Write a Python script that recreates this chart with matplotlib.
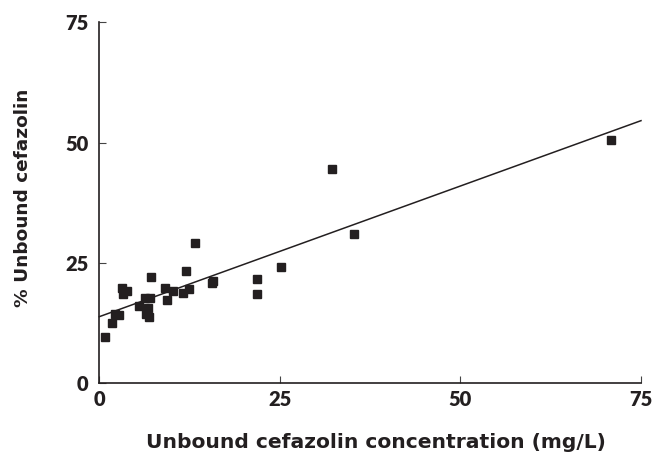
import matplotlib
matplotlib.use("Agg")
import matplotlib.pyplot as plt
import numpy as np

# Data
conc = [0.8, 1.8, 2.2, 2.7, 3.2, 3.3, 3.9, 5.5, 6.3, 7.0, 6.8, 6.5, 6.9, 7.2,
        9.05, 9.4, 10.2, 11.55, 12.0, 12.4, 13.2, 15.6, 15.8, 21.8, 21.9, 25.1,
        32.2, 35.2, 70.9]
unbound_pct = [9.7, 12.6, 14.4, 14.1, 19.9, 18.5, 19.25, 16.1, 17.7, 17.7, 15.6,
               14.5, 13.7, 22.15, 19.7, 17.3, 19.1, 18.7, 23.3, 19.5, 29.1, 20.8,
               21.25, 21.7, 18.55, 24.2, 44.5, 31.0, 50.6]
fit_x = [0, 75]
fit_intercept = 13.84
fit_slope = 0.543
xticks = [0, 25, 50, 75]
yticks = [0, 25, 50, 75]

plt.rcParams['font.family'] = ['Lato', 'DejaVu Sans']
TXT = '#231f20'

fig = plt.figure(figsize=(6.52, 4.55), dpi=100)
W, H = 652, 455
ax = fig.add_axes([99.3 / W, 1 - 383.3 / H, (641 - 99.3) / W, (383.3 - 22.3) / H])

fx = np.array(fit_x, dtype=float)
ax.plot(fx, fit_intercept + fit_slope * fx, color=TXT, lw=1.1, clip_on=False)
ax.plot(conc, unbound_pct, linestyle='none', marker='s', markersize=5.2,
        color=TXT, clip_on=False)

ax.set_xlim(0, 75)
ax.set_ylim(0, 75)
ax.set_xticks(xticks)
ax.set_yticks(yticks)
ax.set_xticklabels([str(t) for t in xticks], fontsize=14.5, fontweight='heavy', color=TXT)
ax.set_yticklabels([str(t) for t in yticks], fontsize=14.5, fontweight='heavy', color=TXT)
ax.tick_params(axis='both', direction='in', length=5, width=0.8, color='#444444')
ax.tick_params(axis='x', pad=5)
ax.tick_params(axis='y', pad=8)
for s in ['top', 'right']:
    ax.spines[s].set_visible(False)
for s in ['left', 'bottom']:
    ax.spines[s].set_linewidth(1.2)
    ax.spines[s].set_color(TXT)

fig.text(376 / W, 1 - 442 / H, 'Unbound cefazolin concentration (mg/L)',
         ha='center', va='center', fontsize=14.6, fontweight='bold', color=TXT,
         family='DejaVu Sans')
fig.text(23 / W, 1 - 198 / H, '% Unbound cefazolin', rotation=90,
         ha='center', va='center', fontsize=13.3, fontweight='bold', color=TXT,
         family='DejaVu Sans')

fig.savefig('out.png', dpi=100)
